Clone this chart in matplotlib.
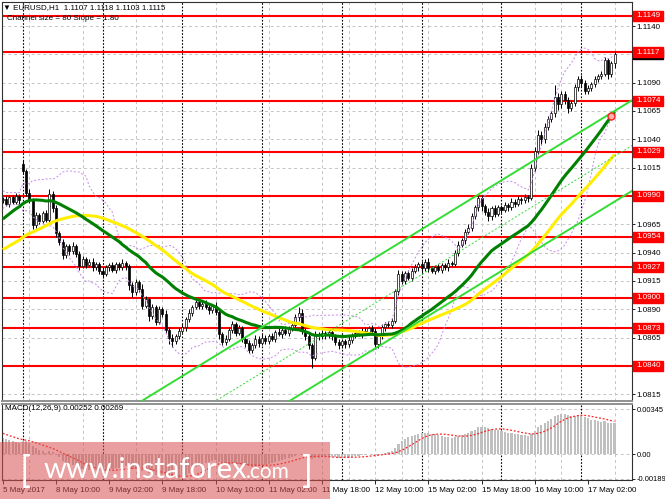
import numpy as np
import pandas as pd
import matplotlib
matplotlib.use("Agg")
import matplotlib.pyplot as plt
from matplotlib.patches import Rectangle

plt.rcParams['font.family'] = ['Liberation Sans', 'DejaVu Sans']

# ---------------- data (prices in pips above 1.0000) ----------------
title_text = "\u25bc EURUSD,H1  1.1107 1.1118 1.1103 1.1115"
channel_text = "Channel size = 80 Slope = 1.80"
macd_text = "MACD(12,26,9) 0.00252 0.00269"

# closes before the first visible bar (only feed the indicators)
warmup_close_pips = [898, 902, 900, 905, 903, 899, 896, 901, 904, 907,
                     903, 900, 898, 902, 906, 904, 901, 899, 903, 905,
                     908, 912, 915, 920, 926, 931, 935, 941, 948, 956,
                     968, 975, 981, 986, 984, 989, 992, 988, 985, 990,
                     993, 989, 986, 984, 988, 991, 987, 985, 989, 986]

close_pips = [987, 983, 989, 985, 990, 986, 1012, 993, 986, 964,
              973, 968, 975, 969, 992, 979, 957, 949, 938, 946,
              941, 946, 939, 928, 934, 929, 932, 927, 930, 924,
              921, 927, 929, 925, 930, 927, 931, 928, 911, 905,
              914, 908, 893, 899, 884, 892, 879, 890, 886, 872,
              865, 862, 866, 871, 874, 881, 887, 892, 896, 893,
              895, 892, 889, 893, 888, 868, 861, 864, 872, 877,
              869, 873, 864, 860, 854, 858, 864, 860, 865, 862,
              866, 864, 870, 868, 872, 869, 873, 876, 883, 887,
              871, 866, 858, 847, 868, 866, 869, 867, 870, 866,
              861, 858, 862, 859, 863, 867, 869, 868, 871, 870,
              873, 871, 859, 866, 874, 877, 876, 880, 906, 921,
              915, 922, 918, 924, 927, 930, 926, 932, 926, 924,
              927, 925, 929, 927, 931, 930, 940, 947, 951, 958,
              962, 972, 980, 988, 981, 976, 972, 979, 974, 980,
              978, 982, 980, 985, 983, 987, 986, 989, 988, 1015,
              1030, 1044, 1040, 1051, 1058, 1063, 1077, 1071, 1080, 1075,
              1068, 1072, 1086, 1093, 1090, 1083, 1085, 1089, 1093, 1096,
              1098, 1110, 1098, 1107, 1115]

up_wick_pips = [2, 3, 2, 2, 3, 2, 4, 2, 3, 2,
                3, 2, 2, 3, 4, 2, 3, 2, 3, 2,
                2, 3, 2, 2, 3, 2, 2, 3, 2, 2,
                3, 2, 2, 3, 2, 2, 3, 2, 2, 3,
                3, 2, 4, 3, 2, 3, 2, 3, 2, 3,
                2, 3, 2, 2, 3, 2, 3, 2, 3, 2,
                2, 3, 2, 2, 3, 3, 2, 3, 2, 3,
                2, 3, 2, 2, 3, 2, 3, 2, 3, 2,
                2, 3, 2, 3, 2, 3, 2, 3, 3, 5,
                3, 2, 3, 2, 3, 2, 3, 2, 2, 3,
                2, 3, 2, 2, 3, 2, 2, 3, 2, 3,
                2, 3, 2, 2, 3, 2, 3, 2, 2, 4,
                3, 2, 3, 2, 3, 2, 3, 2, 3, 2,
                2, 3, 2, 2, 3, 2, 2, 3, 2, 3,
                3, 3, 2, 2, 3, 2, 3, 2, 3, 2,
                2, 3, 2, 3, 2, 3, 2, 3, 2, 3,
                3, 4, 3, 3, 3, 2, 11, 4, 3, 3,
                2, 3, 3, 3, 4, 2, 3, 2, 3, 2,
                2, 3, 2, 2, 3]

down_wick_pips = [2, 2, 3, 2, 2, 3, 3, 3, 2, 3,
                  2, 3, 2, 2, 2, 3, 3, 2, 4, 3,
                  3, 2, 3, 3, 2, 3, 2, 3, 2, 3,
                  3, 2, 3, 2, 3, 2, 2, 3, 4, 4,
                  2, 3, 3, 2, 4, 3, 3, 2, 3, 3,
                  6, 5, 3, 2, 2, 3, 2, 3, 2, 3,
                  3, 2, 3, 2, 3, 4, 3, 3, 2, 3,
                  3, 2, 3, 3, 3, 3, 2, 3, 2, 3,
                  3, 2, 3, 2, 3, 2, 3, 2, 2, 3,
                  3, 3, 3, 9, 2, 3, 2, 3, 2, 3,
                  3, 3, 2, 3, 2, 3, 2, 2, 3, 2,
                  2, 3, 4, 3, 2, 3, 2, 3, 2, 3,
                  3, 3, 2, 3, 2, 3, 4, 2, 3, 2,
                  3, 2, 3, 2, 3, 2, 2, 3, 2, 3,
                  2, 3, 2, 3, 4, 3, 4, 3, 3, 2,
                  3, 2, 3, 2, 3, 2, 3, 2, 3, 2,
                  3, 3, 5, 3, 3, 3, 3, 5, 3, 4,
                  5, 3, 3, 3, 4, 3, 3, 2, 3, 2,
                  3, 2, 5, 3, 4]

gap_open_pips = {6: 1018}

level_prices = [1.1149, 1.1117, 1.1074, 1.1029, 1.0990,
                1.0954, 1.0927, 1.0900, 1.0873, 1.0840]
price_ticks = [1.1140, 1.1115, 1.1090, 1.1065, 1.1040, 1.1015, 1.0990,
               1.0965, 1.0940, 1.0915, 1.0890, 1.0865, 1.0840, 1.0815]
current_price = 1.1115

time_labels = ["5 May 2017", "8 May 10:00", "9 May 02:00", "9 May 18:00",
               "10 May 10:00", "11 May 02:00", "11 May 18:00", "12 May 10:00",
               "15 May 02:00", "15 May 18:00", "16 May 10:00", "17 May 02:00"]
time_label_bars = [0, 16, 32, 48, 64, 80, 96, 112, 128, 144, 160, 176]
day_sep_bars = [6, 30, 54, 78, 102, 126, 150, 174]
grid_bars = [8, 24, 40, 48, 64, 80, 96, 104, 112, 120, 128, 144, 160, 168, 184]

channel_anchor_bar = 184
channel_upper_at_anchor = 1.1065
channel_size = 0.0080
channel_slope = 0.00018      # per bar

macd_tick_values = [0.00345, 0.0, -0.00189]
macd_tick_labels = ["0.00345", "0.00", "-0.00189"]
alert_bar = 183

# ---------------- computations ----------------
n = len(close_pips)
nw = len(warmup_close_pips)
closes = np.array(close_pips) / 10000.0 + 1.0
all_close = pd.Series(np.concatenate([np.array(warmup_close_pips) / 10000.0 + 1.0, closes]))
opens = np.concatenate([[all_close.iloc[nw - 1]], closes[:-1]])
for k, v in gap_open_pips.items():
    opens[k] = 1.0 + v / 10000.0
highs = np.maximum(opens, closes) + np.array(up_wick_pips) / 10000.0
lows = np.minimum(opens, closes) - np.array(down_wick_pips) / 10000.0

sma30 = all_close.rolling(30).mean().values[nw:]
sma50 = all_close.rolling(50).mean().values[nw:]
bb_mid = all_close.rolling(20).mean()
bb_std = all_close.rolling(20).std(ddof=0)
bb_up = (bb_mid + 2 * bb_std).values[nw:]
bb_dn = (bb_mid - 2 * bb_std).values[nw:]
ema12 = all_close.ewm(span=12, adjust=False).mean()
ema26 = all_close.ewm(span=26, adjust=False).mean()
macd_all = ema12 - ema26
signal_all = macd_all.rolling(9).mean()
macd = macd_all.values[nw:]
signal = signal_all.values[nw:]

x = np.arange(n)

# ---------------- figure ----------------
W, H = 665, 499
fig = plt.figure(figsize=(W / 100, H / 100), dpi=100)
fig.patch.set_facecolor("white")
ax = fig.add_axes([2 / W, 98 / H, 630 / W, 399 / H])
axm = fig.add_axes([2 / W, 19 / H, 630 / W, 76 / H])

xlim = (-0.23, 189.25)
ax.set_xlim(*xlim)
ax.set_ylim(1.08090, 1.11612)
axm.set_xlim(*xlim)
axm.set_ylim(-0.001994, 0.003835)

grid_kw = dict(color="#c4c4c4", lw=0.7, linestyle=(0, (3, 3)), zorder=0.5)
for a in (ax, axm):
    for b in grid_bars:
        a.axvline(b, **grid_kw)
    for b in day_sep_bars:
        a.axvline(b, color="black", lw=0.8, linestyle=(0, (1.5, 1.5)), zorder=0.6)
for p in price_ticks:
    ax.axhline(p, **grid_kw)
for v in macd_tick_values:
    axm.axhline(v, **grid_kw)

# horizontal levels
for p in level_prices:
    ax.axhline(p, color="#ff0000", lw=1.5, zorder=2)

# candles
bull = closes >= opens
body_lo = np.minimum(opens, closes)
body_h = np.maximum(np.abs(closes - opens), 0.00004)
ax.vlines(x, lows, highs, color="black", lw=0.7, zorder=3)
ax.bar(x[bull], body_h[bull], bottom=body_lo[bull], width=0.62,
       color="white", edgecolor="black", linewidth=0.5, zorder=3.2)
ax.bar(x[~bull], body_h[~bull], bottom=body_lo[~bull], width=0.62,
       color="black", edgecolor="black", linewidth=0.5, zorder=3.2)

# bollinger bands
ax.plot(x, bb_up, color="#c68ae8", lw=0.7, linestyle=(0, (2, 2)), zorder=3.5)
ax.plot(x, bb_dn, color="#c68ae8", lw=0.7, linestyle=(0, (2, 2)), zorder=3.5)

# moving averages
ax.plot(x, sma50, color="#ffee00", lw=2.2, zorder=4, solid_capstyle="butt")
ax.plot(x, sma30, color="#008000", lw=2.2, zorder=4.1, solid_capstyle="butt")
ax.plot([alert_bar], [sma30[alert_bar]], marker="o", ms=5, mfc="#ffb0b0",
        mec="#ff2020", mew=1.0, zorder=6)

# equidistant channel
cx = np.array(xlim)
upper = channel_upper_at_anchor + (cx - channel_anchor_bar) * channel_slope
ax.plot(cx, upper, color="#33dd33", lw=1.4, zorder=5)
ax.plot(cx, upper - channel_size, color="#33dd33", lw=1.4, zorder=5)
ax.plot(cx, upper - channel_size / 2, color="#33dd33", lw=0.7,
        linestyle=(0, (2, 2)), zorder=5)

# MACD
axm.bar(x, macd, width=0.65, color="#c0c0c0", zorder=2)
axm.plot(x, signal, color="#ff2020", lw=0.9, linestyle=(0, (1.5, 1.5)), zorder=3)

# axes styling
fs = 5.8
for a in (ax, axm):
    a.yaxis.tick_right()
    a.tick_params(axis="y", labelsize=fs, length=2, width=0.6, pad=1.5)
    for s in a.spines.values():
        s.set_color("#303030")
        s.set_linewidth(0.8)
axm.tick_params(axis="y", labelsize=5.4, pad=1.2)
ax.spines["bottom"].set_color("#909090")
ax.spines["bottom"].set_linewidth(1.4)
axm.spines["top"].set_color("#909090")
axm.spines["top"].set_linewidth(1.4)

# labels hidden under the price boxes in the reference are left blank
covered = set([round(current_price, 4)] + [round(p, 4) for p in level_prices])
ax.set_yticks(price_ticks)
ax.set_yticklabels(["" if round(p, 4) in covered else f"{p:.4f}" for p in price_ticks])
ax.set_xticks([])
axm.set_yticks(macd_tick_values)
axm.set_yticklabels(macd_tick_labels)
axm.set_xticks(time_label_bars)
axm.set_xticklabels(time_labels, ha="left")
axm.tick_params(axis="x", labelsize=fs, length=3, width=0.6, pad=2)

# price boxes
def price_box(price, color, text=None):
    yf = fig.transFigure.inverted().transform(ax.transData.transform((0, price)))[1]
    fig.add_artist(Rectangle((633 / W, yf - 5 / H), 30 / W, 10 / H,
                             transform=fig.transFigure, fc=color, ec=color, zorder=5))
    if text:
        fig.text(636 / W, yf, text, color="white", fontsize=fs, va="center",
                 ha="left", zorder=6)

price_box(current_price, "black")
for p in level_prices:
    price_box(p, "#ff0000", f"{p:.4f}")

# header texts
fig.text(3 / W, 1 - 8 / H, title_text, fontsize=fs, va="center", ha="left", zorder=7)
fig.text(7 / W, 1 - 18 / H, channel_text, fontsize=fs, va="center", ha="left", zorder=7)
fig.text(5 / W, 1 - 409 / H, macd_text, fontsize=fs, va="center", ha="left", zorder=7)

# watermark
fig.add_artist(Rectangle((0, 0), 330 / W, 57 / H, transform=fig.transFigure,
                         fc="#d85050", ec="none", alpha=0.55, zorder=20))
wm_kw = dict(color="white", alpha=1.0, zorder=21, va="baseline", ha="left",
             family=["Lato", "DejaVu Sans"])
fig.text(20 / W, 1 - 483 / H, "[", fontsize=26, **wm_kw)
fig.text(44 / W, 1 - 478 / H, "www.instaforex", fontsize=21, **wm_kw)
fig.text(246 / W, 1 - 478 / H, ".com", fontsize=15, **wm_kw)
fig.text(302 / W, 1 - 483 / H, "]", fontsize=26, **wm_kw)

fig.savefig("out.png", dpi=100)
